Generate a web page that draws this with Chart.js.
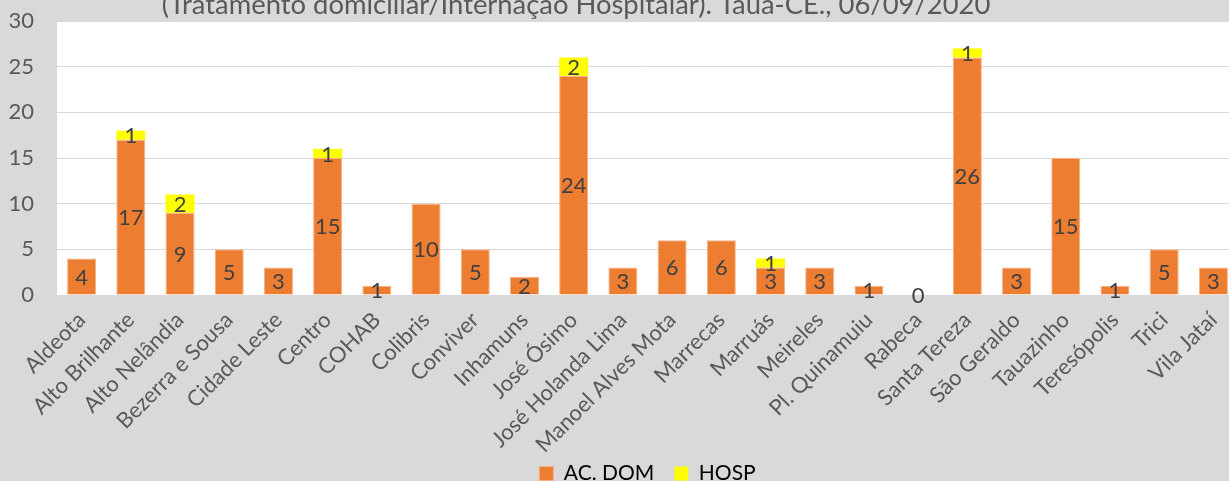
<!DOCTYPE html>
<html>
<head>
<meta charset="utf-8">
<script src="https://cdn.jsdelivr.net/npm/chart.js@4.4.0/dist/chart.umd.min.js"></script>
<style>
html,body{margin:0;padding:0;background:#d9d9d9;overflow:hidden;}
#wrap{width:1229px;height:481px;position:relative;overflow:hidden;}
</style>
</head>
<body>
<div id="wrap"><canvas id="c" width="1238" height="481"></canvas></div>
<script>
const categories = ["Aldeota","Alto Brilhante","Alto Nelândia","Bezerra e Sousa","Cidade Leste","Centro","COHAB","Colibris","Conviver","Inhamuns","José Ósimo","José Holanda Lima","Manoel Alves Mota","Marrecas","Marruás","Meireles","Pl. Quinamuiu","Rabeca","Santa Tereza","São Geraldo","Tauazinho","Teresópolis","Trici","Vila Jataí"];
const acDom = [4,17,9,5,3,15,1,10,5,2,24,3,6,6,3,3,1,0,26,3,15,1,5,3];
const hosp  = [0,1,2,0,0,1,0,0,0,0,2,0,0,0,1,0,0,0,1,0,0,0,0,0];
const yTicks = [0,5,10,15,20,25,30];
const titleText = "(Tratamento domiciliar/Internação Hospitalar). Tauá-CE., 06/09/2020";

const FONT = "Lato, 'Open Sans', sans-serif";

const bgPlugin = {
  id: 'bg',
  beforeDraw(chart) {
    const {ctx, chartArea: a} = chart;
    ctx.save();
    ctx.fillStyle = '#d9d9d9';
    ctx.fillRect(0, 0, chart.width, chart.height);
    ctx.fillStyle = '#ffffff';
    ctx.fillRect(a.left, a.top, a.right - a.left, a.bottom - a.top);
    ctx.restore();
  },
  afterDraw(chart) {
    const ctx = chart.ctx;
    ctx.save();
    ctx.font = "27.4px " + FONT;
    ctx.fillStyle = '#595959';
    ctx.textAlign = 'center';
    ctx.textBaseline = 'alphabetic';
    ctx.fillText(titleText, 576, 14);
    ctx.restore();
  }
};

const labelPlugin = {
  id: 'vals',
  afterDatasetsDraw(chart) {
    const ctx = chart.ctx;
    ctx.save();
    ctx.font = "22px " + FONT;
    ctx.fillStyle = '#404040';
    ctx.textAlign = 'center';
    ctx.textBaseline = 'middle';
    chart.data.datasets.forEach((ds, di) => {
      const meta = chart.getDatasetMeta(di);
      meta.data.forEach((bar, i) => {
        const v = ds.data[i];
        if (di === 1 && v === 0) return;
        const p = bar.getProps(['x','y','base'], true);
        const yc = (p.y + p.base) / 2;
        ctx.fillText(String(v), p.x, yc + 1);
      });
    });
    ctx.restore();
  }
};

new Chart(document.getElementById('c'), {
  type: 'bar',
  data: {
    labels: categories,
    datasets: [
      {label: 'AC. DOM', data: acDom, backgroundColor: '#ed7d31', borderColor: '#f4b183', borderWidth: 1, categoryPercentage: 1, barPercentage: 0.59},
      {label: 'HOSP', data: hosp, backgroundColor: '#ffff00', borderColor: '#ffff00', borderWidth: 0, categoryPercentage: 1, barPercentage: 0.59}
    ]
  },
  options: {
    responsive: false,
    animation: false,
    devicePixelRatio: 1,
    layout: {padding: {top: 21, right: 0, left: 0, bottom: -13}},
    plugins: {
      legend: {
        position: 'bottom',
        fullSize: false,
        labels: {font: {family: FONT, size: 21}, color: '#000000', boxWidth: 14, boxHeight: 14, padding: 20}
      },
      tooltip: {enabled: false},
      title: {display: false}
    },
    scales: {
      x: {
        stacked: true,
        grid: {display: false, drawTicks: false},
        border: {display: false},
        ticks: {font: {family: FONT, size: 22}, color: '#595959', maxRotation: 45, minRotation: 45, autoSkip: false, padding: 12},
        afterFit(s) {
          s.height = 148; s.paddingLeft = 0; s.paddingRight = 0;
          s._computeLabelArea = () => ({top: s.top, left: 0, bottom: s.chart.height, right: s.chart.width});
        }
      },
      y: {
        stacked: true,
        min: 0, max: 30,
        afterBuildTicks(s) { s.ticks = yTicks.map(v => ({value: v})); },
        grid: {color: '#d9d9d9', lineWidth: 1, drawTicks: false},
        border: {display: false},
        ticks: {font: {family: FONT, size: 22}, color: '#595959', padding: 23},
        afterFit(s) { s.width = 57; s.paddingTop = 0; s.paddingBottom = 0; }
      }
    }
  },
  plugins: [bgPlugin, labelPlugin]
});
</script>
</body>
</html>
